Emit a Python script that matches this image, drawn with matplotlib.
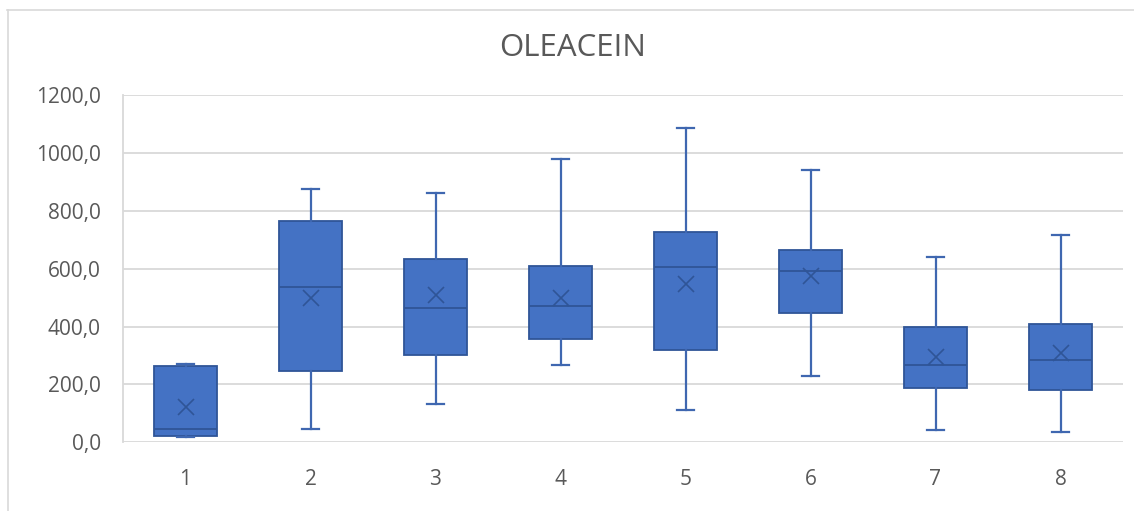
import matplotlib
matplotlib.use("Agg")
import matplotlib.pyplot as plt
from matplotlib.lines import Line2D

categories = ["1", "2", "3", "4", "5", "6", "7", "8"]
whisker_low = [19, 46, 133, 266, 112, 230, 44, 36]
q1 = [23, 246, 300, 356, 320, 447, 187, 180]
median = [45, 535, 463, 470, 607, 593, 267, 284]
q3 = [263, 766, 634, 609, 728, 664, 398, 410]
whisker_high = [270, 875, 861, 978, 1086, 942, 639, 715]
mean = [123, 498, 509, 498, 547, 575, 296, 308]

y_ticks = [0, 200, 400, 600, 800, 1000, 1200]
y_tick_labels = ["0,0", "200,0", "400,0", "600,0", "800,0", "1000,0", "1200,0"]

plt.rcParams['font.family'] = ['Open Sans', 'DejaVu Sans']

fig = plt.figure(figsize=(11.34, 5.11), dpi=100)
ax = fig.add_axes([123 / 1134, 1 - 442.3 / 511, 1000 / 1134, 347.3 / 511])

stats = []
for i in range(len(categories)):
    stats.append(dict(label=categories[i], whislo=whisker_low[i], q1=q1[i], med=median[i],
                      q3=q3[i], whishi=whisker_high[i], mean=mean[i], fliers=[]))

blue = "#4472C4"
dark = "#2F5597"
wh = "#3F67B0"
ax.bxp(stats, positions=range(1, len(categories) + 1), widths=0.5, patch_artist=True,
       showmeans=True, meanline=False,
       boxprops=dict(facecolor=blue, edgecolor=dark, linewidth=1.3),
       medianprops=dict(color=dark, linewidth=1.3),
       whiskerprops=dict(color=wh, linewidth=1.6),
       capprops=dict(color=wh, linewidth=1.6),
       capwidths=0.14,
       meanprops=dict(marker="x", markeredgecolor=dark, markersize=12, markeredgewidth=1.2),
       zorder=3)

ax.set_xlim(0.5, len(categories) + 0.5)
ax.set_ylim(0, 1200)
ax.set_yticks(y_ticks)
ax.set_yticklabels(y_tick_labels)
ax.yaxis.grid(True, color="#D9D9D9", linewidth=1.3, zorder=0)
ax.set_axisbelow(True)
for s in ["top", "right", "bottom"]:
    ax.spines[s].set_visible(False)
ax.spines["left"].set_color("#D9D9D9")
ax.spines["left"].set_linewidth(1.3)
ax.tick_params(axis="both", length=0, labelsize=15, colors="#595959")
ax.tick_params(axis="y", pad=16)
ax.tick_params(axis="x", pad=19)

fig.text(573 / 1134, 1 - 48 / 511, "OLEACEIN", ha="center", va="center",
         fontsize=22.5, color="#595959")

fig.add_artist(Line2D([7 / 1134, 1], [1 - 10.5 / 511, 1 - 10.5 / 511],
                      transform=fig.transFigure, color="#D9D9D9", linewidth=1.2))
fig.add_artist(Line2D([7.5 / 1134, 7.5 / 1134], [0, 1 - 10.5 / 511],
                      transform=fig.transFigure, color="#D9D9D9", linewidth=1.2))

fig.savefig("out.png", dpi=100)
